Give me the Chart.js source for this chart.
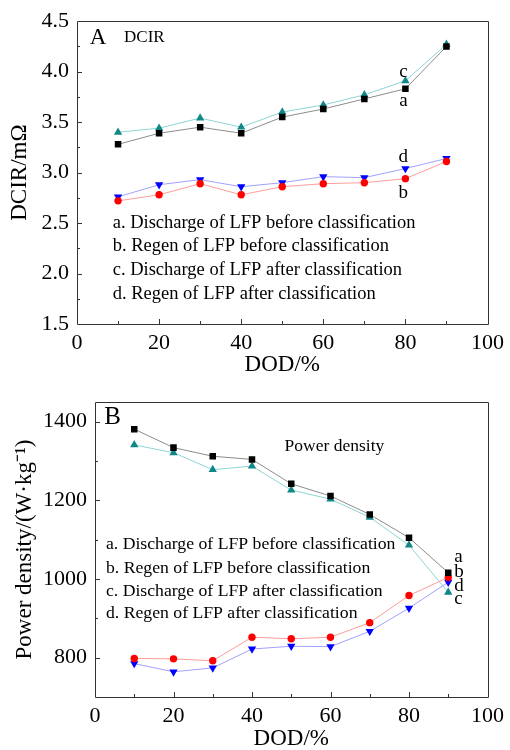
<!DOCTYPE html>
<html>
<head>
<title>DCIR and power density vs DOD</title>
<script src="https://cdn.jsdelivr.net/npm/chart.js"></script>
<style>
  body { margin: 0; background: #fff; }
  canvas { position: absolute; left: 0; }
  #dcirChart { top: 0; }
  #powerChart { top: 378px; }
</style>
</head>
<body>
<canvas id="dcirChart" width="510" height="378"></canvas>
<canvas id="powerChart" width="510" height="372"></canvas>
<script>
// DOD values (x axis)
const dod = [10, 20, 30, 40, 50, 60, 70, 80, 90];

// panel A - DCIR (mOhm)
const dcirDischargeBefore = [3.28, 3.39, 3.45, 3.39, 3.55, 3.63, 3.73, 3.83, 4.25];
const dcirRegenBefore     = [2.72, 2.78, 2.89, 2.78, 2.86, 2.89, 2.90, 2.94, 3.11];
const dcirDischargeAfter  = [3.40, 3.44, 3.54, 3.45, 3.60, 3.67, 3.77, 3.91, 4.27];
const dcirRegenAfter      = [2.76, 2.88, 2.93, 2.86, 2.90, 2.96, 2.95, 3.04, 3.14];

// panel B - power density (W/kg)
const powerDischargeBefore = [1381, 1334, 1312, 1304, 1242, 1211, 1164, 1105, 1016];
const powerRegenBefore     = [798, 797, 792, 852, 848, 852, 889, 958, 1004];
const powerDischargeAfter  = [1341, 1321, 1278, 1287, 1226, 1203, 1157, 1086, 966];
const powerRegenAfter      = [785, 764, 774, 822, 829, 828, 867, 926, 992];

const seriesNames = [
    'a. Discharge of LFP before classification',
    'b. Regen of LFP before classification',
    'c. Discharge of LFP after classification',
    'd. Regen of LFP after classification'
];

const FONT = "'Liberation Serif', 'Times New Roman', serif";

function pts(ys) {
    return dod.map((x, i) => ({x: x, y: ys[i]}));
}

function makeSets(a, b, c, d) {
    return [
        {data: pts(a), borderColor: '#8c8c8c', backgroundColor: '#000', pointBorderColor: '#000',
         pointStyle: 'rect', pointRadius: 4.6},
        {data: pts(b), borderColor: '#ff9c9c', backgroundColor: '#ff0000', pointBorderColor: '#ff0000',
         pointStyle: 'circle', pointRadius: 3.7},
        {data: pts(c), borderColor: '#8ed4d4', backgroundColor: '#118787', pointBorderColor: '#118787',
         pointStyle: 'triangle', pointRadius: 4.8},
        {data: pts(d), borderColor: '#a0a0ff', backgroundColor: '#0000ff', pointBorderColor: '#0000ff',
         pointStyle: 'triangle', pointRotation: 180, pointRadius: 4.8}
    ].map(s => Object.assign(s, {borderWidth: 1, pointBorderWidth: 0, tension: 0}));
}

// frame, inward ticks and text notes
const decor = {
    id: 'decor',
    afterDraw(chart, args, opts) {
        const ctx = chart.ctx;
        const area = chart.chartArea;
        const xs = chart.scales.x, ys = chart.scales.y;
        ctx.save();
        ctx.strokeStyle = '#333';
        ctx.lineWidth = 1;
        ctx.beginPath();
        ctx.rect(Math.round(area.left) + 0.5, Math.round(area.top) + 0.5,
                 Math.round(area.right - area.left), Math.round(area.bottom - area.top));
        ctx.stroke();

        ctx.beginPath();
        xs.ticks.forEach(t => {
            if (t.value <= xs.min || t.value >= xs.max) return;
            const px = Math.round(xs.getPixelForValue(t.value)) + 0.5;
            const len = t.value % opts.xMajor === 0 ? 5 : 3;
            ctx.moveTo(px, area.bottom);
            ctx.lineTo(px, area.bottom - len);
        });
        ys.ticks.forEach(t => {
            if (t.value <= ys.min || t.value >= ys.max) return;
            const py = Math.round(ys.getPixelForValue(t.value)) + 0.5;
            const m = t.value / opts.yMajor;
            const len = Math.abs(m - Math.round(m)) < 1e-6 ? 5 : 3;
            ctx.moveTo(area.left, py);
            ctx.lineTo(area.left + len, py);
        });
        ctx.stroke();

        ctx.fillStyle = '#000';
        ctx.textBaseline = 'middle';
        opts.notes.forEach(n => {
            ctx.font = n.size + 'px ' + FONT;
            ctx.textAlign = n.align || 'left';
            ctx.fillText(n.text, xs.getPixelForValue(n.x), ys.getPixelForValue(n.y));
        });
        ctx.restore();
    }
};

function makeChart(id, sets, cfg) {
    return new Chart(document.getElementById(id), {
        type: 'line',
        data: {datasets: sets},
        plugins: [decor],
        options: {
            responsive: false,
            animation: false,
            layout: {padding: {top: cfg.padTop, right: 18, left: 0, bottom: 0}},
            plugins: {
                legend: {display: false},
                tooltip: {enabled: false},
                decor: {notes: cfg.notes, xMajor: 20, yMajor: cfg.yMajor}
            },
            scales: {
                x: {
                    type: 'linear', min: 0, max: 100,
                    afterFit: s => { s.height = cfg.xHeight; },
                    grid: {display: false, drawTicks: false},
                    border: {display: false},
                    ticks: {
                        stepSize: 10, autoSkip: false, maxRotation: 0, padding: 6, color: '#000',
                        font: {family: FONT, size: 22},
                        callback: v => (v % 20 === 0 ? String(v) : '')
                    },
                    title: {display: true, text: 'DOD/%', color: '#000', padding: {top: 0, bottom: cfg.xTitlePad},
                            font: {family: FONT, size: 23, lineHeight: 1}}
                },
                y: {
                    min: cfg.yMin, max: cfg.yMax,
                    afterFit: s => { s.width = cfg.yWidth; },
                    afterBuildTicks: s => {
                        const list = [];
                        const n = Math.floor((cfg.yMax - cfg.yMin) / cfg.yMinor + 1e-6);
                        for (let i = 0; i <= n; i++) list.push({value: +(cfg.yMin + i * cfg.yMinor).toFixed(4)});
                        s.ticks = list;
                    },
                    grid: {display: false, drawTicks: false},
                    border: {display: false},
                    ticks: {
                        autoSkip: false, padding: 8, color: '#000',
                        font: {family: FONT, size: 22},
                        callback: cfg.yLabel
                    },
                    title: {display: true, text: cfg.yTitle, color: '#000', padding: {top: cfg.yTitlePad, bottom: 0},
                            font: {family: FONT, size: 23, lineHeight: 1}}
                }
            }
        }
    });
}

makeChart('dcirChart',
    makeSets(dcirDischargeBefore, dcirRegenBefore, dcirDischargeAfter, dcirRegenAfter), {
    padTop: 16, xHeight: 54, yWidth: 77, xTitlePad: 2, yTitlePad: 8,
    yMin: 1.5, yMax: 4.5, yMinor: 0.25, yMajor: 0.5,
    yTitle: 'DCIR/m\u03A9',
    yLabel: v => (Math.abs(v * 2 - Math.round(v * 2)) < 1e-6 ? v.toFixed(1) : ''),
    notes: [
        {text: 'A', x: 5.1, y: 4.335, size: 23, align: 'center'},
        {text: 'DCIR', x: 16.4, y: 4.335, size: 17, align: 'center'},
        {text: 'c', x: 79.5, y: 4.0, size: 19, align: 'center'},
        {text: 'a', x: 79.5, y: 3.71, size: 19, align: 'center'},
        {text: 'd', x: 79.5, y: 3.15, size: 19, align: 'center'},
        {text: 'b', x: 79.5, y: 2.80, size: 19, align: 'center'},
        {text: seriesNames[0], x: 8.7, y: 2.50, size: 18.5},
        {text: seriesNames[1], x: 8.7, y: 2.27, size: 18.5},
        {text: seriesNames[2], x: 8.7, y: 2.03, size: 18.5},
        {text: seriesNames[3], x: 8.7, y: 1.80, size: 18.5}
    ]
});

makeChart('powerChart',
    makeSets(powerDischargeBefore, powerRegenBefore, powerDischargeAfter, powerRegenAfter), {
    padTop: 24, xHeight: 53, yWidth: 95, xTitlePad: 0, yTitlePad: 13,
    yMin: 700, yMax: 1450, yMinor: 100, yMajor: 200,
    yTitle: 'Power density/(W\u00B7kg\u207B\u00B9)',
    yLabel: v => (v % 200 === 0 ? String(v) : ''),
    notes: [
        {text: 'B', x: 4.5, y: 1412, size: 25, align: 'center'},
        {text: 'Power density', x: 61, y: 1338, size: 17.5, align: 'center'},
        {text: 'a', x: 91.5, y: 1057, size: 19},
        {text: 'b', x: 91.5, y: 1017, size: 19},
        {text: 'd', x: 91.5, y: 981, size: 19},
        {text: 'c', x: 91.5, y: 949, size: 19},
        {text: seriesNames[0], x: 2.8, y: 1088, size: 17.7},
        {text: seriesNames[1], x: 2.8, y: 1027, size: 17.7},
        {text: seriesNames[2], x: 2.8, y: 969, size: 17.7},
        {text: seriesNames[3], x: 2.8, y: 913, size: 17.7}
    ]
});
</script>
</body>
</html>
